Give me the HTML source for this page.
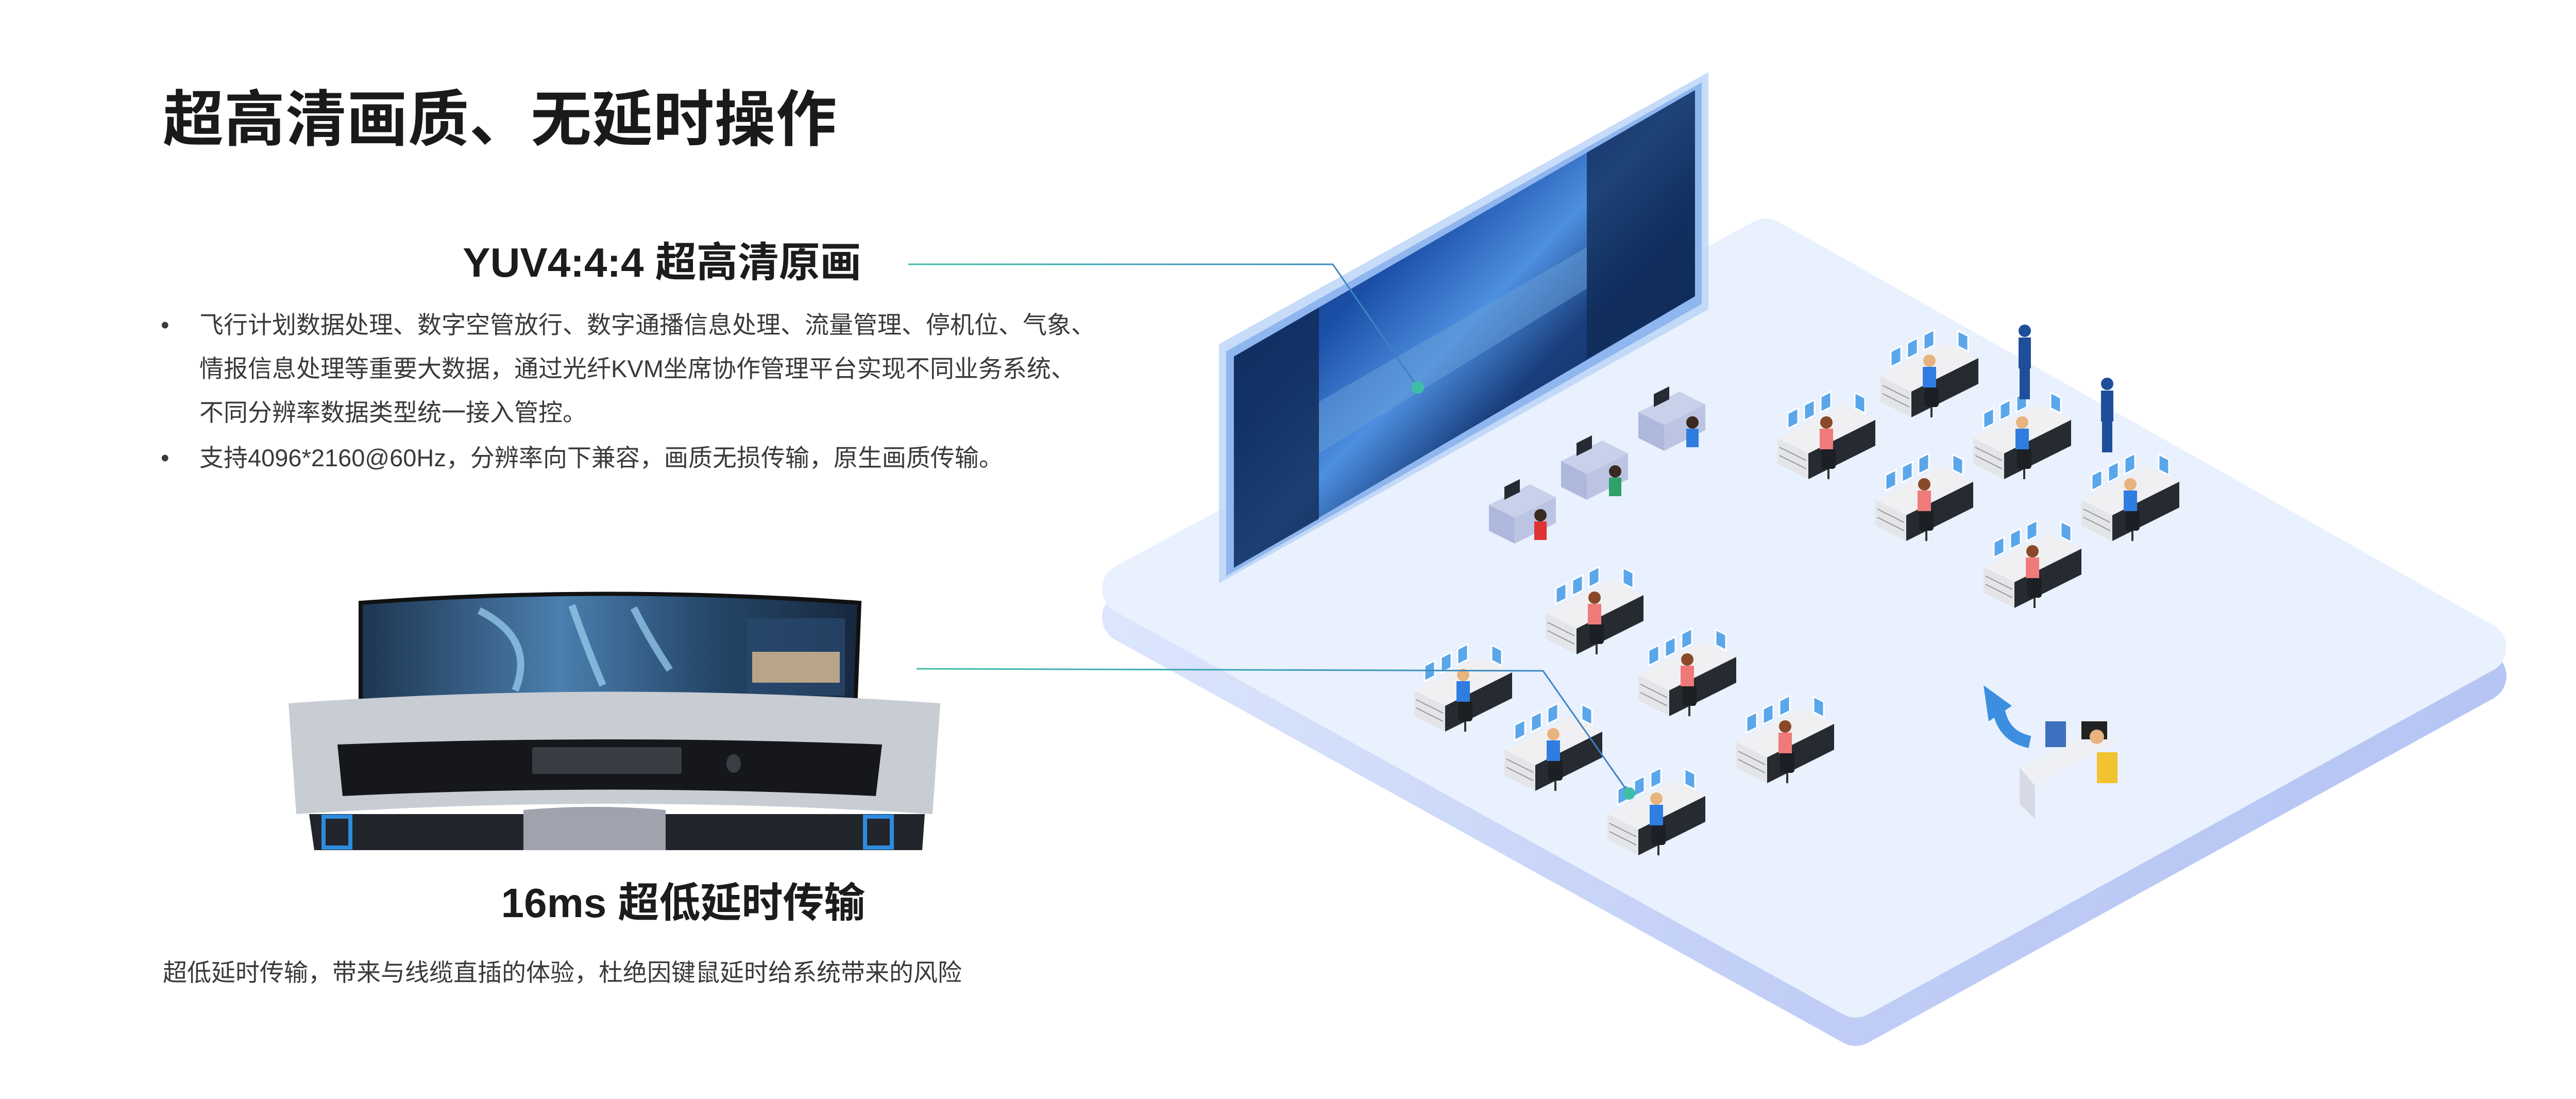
<!DOCTYPE html>
<html><head><meta charset="utf-8">
<style>
html,body{margin:0;padding:0;background:#fff;}
body{width:5119px;height:2133px;position:relative;overflow:hidden;font-family:"Liberation Sans","Noto Sans CJK SC",sans-serif;}
.t{position:absolute;white-space:nowrap;line-height:1;}
.h1{left:316px;top:174px;font-size:118px;font-weight:bold;color:#1a1a1a;letter-spacing:1px;}
.h2{font-size:80px;font-weight:bold;color:#1c1c1c;text-align:center;}
.p{font-size:47px;color:#3a3a3a;}
svg{position:absolute;left:0;top:0;}
</style></head><body>
<svg width="5119" height="2133" viewBox="0 0 5119 2133">
<defs>
<linearGradient id="side" x1="0" y1="0" x2="1" y2="0">
<stop offset="0" stop-color="#dbe5fc"/><stop offset="0.5" stop-color="#c0cdf6"/><stop offset="1" stop-color="#b6c5f3"/></linearGradient>
<linearGradient id="scr" x1="0" y1="0" x2="1" y2="1">
<stop offset="0" stop-color="#0b1d3d"/><stop offset="0.35" stop-color="#1b4fa8"/><stop offset="0.5" stop-color="#4d8fe0"/><stop offset="0.62" stop-color="#1a3f7e"/><stop offset="1" stop-color="#0a1a36"/></linearGradient>
<linearGradient id="ln" x1="0" y1="0" x2="1" y2="0"><stop offset="0" stop-color="#3ec0a6"/><stop offset="1" stop-color="#3d7fc8"/></linearGradient>
<linearGradient id="mon" x1="0" y1="0" x2="1" y2="0"><stop offset="0" stop-color="#1d3550"/><stop offset="0.4" stop-color="#4b7fae"/><stop offset="0.7" stop-color="#25476a"/><stop offset="1" stop-color="#17283d"/></linearGradient>
<g id="ws">
<polygon points="10,70 140,5 200,35 70,100" fill="#f0f0f2"/>
<polygon points="10,70 70,100 70,150 10,120" fill="#e4e5e8"/>
<line x1="14" y1="88" x2="66" y2="114" stroke="#999" stroke-width="2"/>
<line x1="14" y1="104" x2="66" y2="130" stroke="#999" stroke-width="2"/>
<polygon points="70,100 200,35 200,85 70,150" fill="#262a31"/>
<polygon points="30,52 50,42 50,12 30,22" fill="#5aa6ea" stroke="#fff" stroke-width="3"/>
<polygon points="62,36 82,26 82,-4 62,6" fill="#5aa6ea" stroke="#fff" stroke-width="3"/>
<polygon points="94,20 114,10 114,-20 94,-10" fill="#5aa6ea" stroke="#fff" stroke-width="3"/>
<polygon points="160,12 180,22 180,-8 160,-18" fill="#5aa6ea" stroke="#fff" stroke-width="3"/>
<rect x="95" y="90" width="28" height="40" rx="6" fill="#1c1f24"/>
<line x1="109" y1="130" x2="109" y2="150" stroke="#333" stroke-width="4"/>
</g>
<g id="pB"><circle cx="105" cy="40" r="12" fill="#e7b37e"/><path d="M92,52 h26 v40 h-26z" fill="#2f7de0"/></g>
<g id="pR"><circle cx="105" cy="40" r="12" fill="#8a4a2a"/><path d="M92,52 h26 v40 h-26z" fill="#f07a7a"/></g>
<g id="sd">
<polygon points="0,50 80,10 130,35 50,75" fill="#c9d0ea"/>
<polygon points="0,50 50,75 50,125 0,100" fill="#aeb7dc"/>
<polygon points="50,75 130,35 130,85 50,125" fill="#bcc4e4"/>
<polygon points="30,40 60,25 60,0 30,15" fill="#252a33"/>
</g>
</defs>

<!-- platform -->
<g stroke-linejoin="round">
<polygon points="3428,530 4815,1312 3602,1980 2189,1198" fill="url(#side)" stroke="url(#side)" stroke-width="100"/>
<polygon points="3428,474 4815,1257 3602,1925 2189,1143" fill="#e8f1fd" stroke="#e8f1fd" stroke-width="100"/>
</g>

<!-- video wall -->
<polygon points="2366,668 3316,140 3316,600 2366,1132" fill="#b9d3f6" opacity="0.8"/>
<polygon points="2380,682 3303,160 3303,590 2380,1118" fill="#8fb6ee"/>
<polygon points="2395,692 3290,175 3290,575 2395,1102" fill="url(#scr)"/>
<polygon points="2395,692 2560,597 2560,1007 2395,1102" fill="#102a55" opacity="0.8"/>
<polygon points="3080,296 3290,175 3290,575 3080,696" fill="#0f2a54" opacity="0.75"/>
<polygon points="2560,780 3080,480 3080,560 2560,880" fill="#6aa0d8" opacity="0.5"/>

<!-- small desks -->
<use href="#sd" x="2890" y="930"/>
<use href="#sd" x="3030" y="845"/>
<use href="#sd" x="3180" y="750"/>
<g><circle cx="2990" cy="1000" r="12" fill="#3a2a20"/><rect x="2978" y="1012" width="24" height="36" fill="#d33"/></g>
<g><circle cx="3135" cy="915" r="12" fill="#3a2a20"/><rect x="3123" y="927" width="24" height="36" fill="#2fa06a"/></g>
<g><circle cx="3285" cy="820" r="12" fill="#3a2a20"/><rect x="3273" y="832" width="24" height="36" fill="#2f7de0"/></g>

<!-- workstations -->
<use href="#ws" x="3440" y="780"/><use href="#pR" x="3440" y="780"/>
<use href="#ws" x="3640" y="660"/><use href="#pB" x="3640" y="660"/>
<use href="#ws" x="3630" y="900"/><use href="#pR" x="3630" y="900"/>
<use href="#ws" x="3820" y="780"/><use href="#pB" x="3820" y="780"/>
<use href="#ws" x="3840" y="1030"/><use href="#pR" x="3840" y="1030"/>
<use href="#ws" x="4030" y="900"/><use href="#pB" x="4030" y="900"/>
<use href="#ws" x="2990" y="1120"/><use href="#pR" x="2990" y="1120"/>
<use href="#ws" x="3170" y="1240"/><use href="#pR" x="3170" y="1240"/>
<use href="#ws" x="3360" y="1370"/><use href="#pR" x="3360" y="1370"/>
<use href="#ws" x="2735" y="1270"/><use href="#pB" x="2735" y="1270"/>
<use href="#ws" x="2910" y="1385"/><use href="#pB" x="2910" y="1385"/>
<use href="#ws" x="3110" y="1510"/><use href="#pB" x="3110" y="1510"/>
<!-- standing -->
<g fill="#1f4f9a"><circle cx="3930" cy="642" r="12"/><rect x="3918" y="655" width="24" height="60"/><rect x="3920" y="715" width="20" height="60"/>
<circle cx="4090" cy="745" r="12"/><rect x="4078" y="758" width="24" height="60"/><rect x="4080" y="818" width="20" height="60"/></g>
<!-- reception -->
<polygon points="3920,1490 4080,1410 4110,1440 3950,1525" fill="#eef0f5"/>
<polygon points="3920,1490 3950,1525 3950,1590 3920,1560" fill="#d7dae2"/>
<rect x="3970" y="1400" width="40" height="50" fill="#3f6fbf"/><rect x="4040" y="1400" width="50" height="35" fill="#222"/>
<circle cx="4070" cy="1430" r="14" fill="#e7b37e"/><rect x="4070" y="1460" width="40" height="60" fill="#f2c230"/>
<!-- arrow -->
<path d="M3880,1380 q10,50 60,60" stroke="#3c8fe0" stroke-width="24" fill="none"/>
<polygon points="3850,1330 3905,1370 3860,1400" fill="#3c8fe0"/>

<!-- connectors -->
<polyline points="1763,513 2587,513 2752,752" fill="none" stroke="url(#ln)" stroke-width="3"/>
<circle cx="2752" cy="752" r="12" fill="#3ebfa5"/>
<polyline points="1779,1298 2995,1302 3162,1540" fill="none" stroke="url(#ln)" stroke-width="3"/>
<circle cx="3162" cy="1540" r="12" fill="#3ebfa5"/>

<!-- console -->
<path d="M700,1170 Q1180,1135 1668,1170 L1660,1375 Q1180,1350 700,1375 Z" fill="url(#mon)" stroke="#111" stroke-width="8"/>
<path d="M930,1185 Q1040,1240 1000,1340 M1110,1175 Q1140,1260 1170,1330 M1230,1180 Q1260,1240 1300,1300" stroke="#9cd2f2" stroke-width="14" fill="none" opacity="0.7"/>
<rect x="1450" y="1200" width="190" height="150" fill="#2a4a70" opacity="0.7"/>
<rect x="1460" y="1265" width="170" height="60" fill="#b9a48a"/>
<rect x="930" y="1365" width="490" height="22" fill="#1a1a1a"/>
<path d="M560,1365 Q1190,1320 1825,1365 L1810,1580 Q1190,1540 575,1580 Z" fill="#c8ccd3"/>
<path d="M655,1445 Q1190,1425 1712,1445 L1700,1545 Q1190,1520 665,1545 Z" fill="#15171b"/>
<rect x="1033" y="1450" width="290" height="52" rx="4" fill="#3a3d44"/>
<ellipse cx="1424" cy="1482" rx="14" ry="18" fill="#3a3d44"/>
<path d="M600,1580 L1795,1580 L1790,1650 L610,1650 Z" fill="#22252b"/>
<rect x="628" y="1585" width="52" height="60" fill="none" stroke="#2d8ce0" stroke-width="8"/>
<rect x="1679" y="1585" width="52" height="60" fill="none" stroke="#2d8ce0" stroke-width="8"/>
<path d="M1016,1572 Q1154,1560 1292,1572 L1292,1650 L1016,1650 Z" fill="#9ea3ad"/>
</svg>

<div class="t h1">超高清画质、无延时操作</div>
<div class="t h2" style="left:785px;top:470px;width:1000px;">YUV4:4:4 超高清原画</div>
<div class="t p" style="left:312px;top:588px;line-height:85px;">•</div>
<div class="t p" style="left:387px;top:588px;line-height:85px;">飞行计划数据处理、数字空管放行、数字通播信息处理、流量管理、停机位、气象、<br>情报信息处理等重要大数据，通过光纤KVM坐席协作管理平台实现不同业务系统、<br>不同分辨率数据类型统一接入管控。</div>
<div class="t p" style="left:312px;top:846px;line-height:85px;">•</div>
<div class="t p" style="left:387px;top:846px;line-height:85px;">支持4096*2160@60Hz，分辨率向下兼容，画质无损传输，原生画质传输。</div>
<div class="t h2" style="left:826px;top:1713px;width:1000px;">16ms 超低延时传输</div>
<div class="t p" style="left:316px;top:1864px;">超低延时传输，带来与线缆直插的体验，杜绝因键鼠延时给系统带来的风险</div>
</body></html>
